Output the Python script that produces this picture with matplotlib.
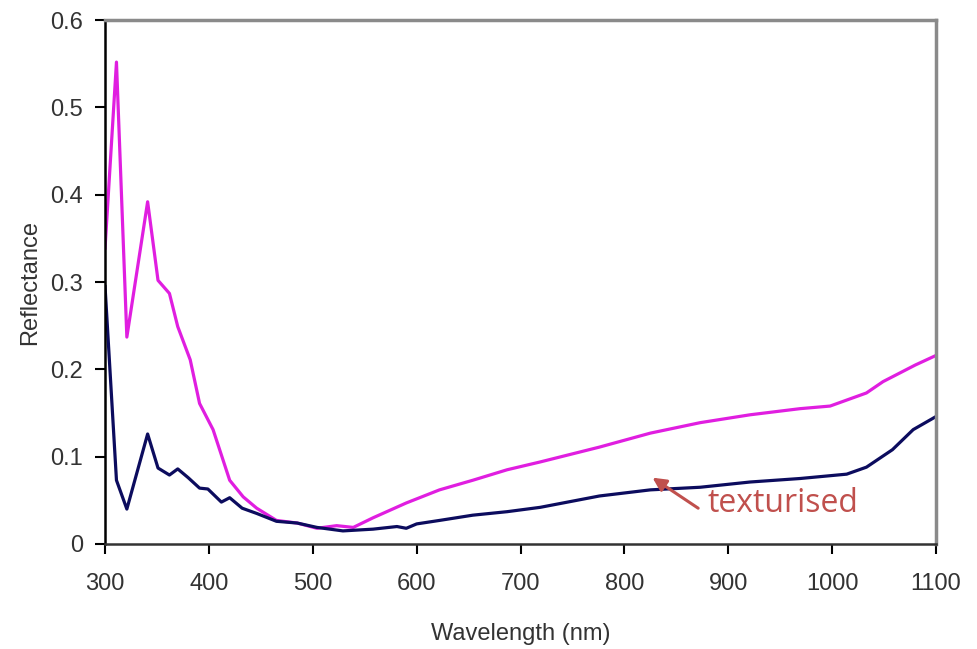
import matplotlib
matplotlib.use("Agg")
import matplotlib.pyplot as plt

# reflectance spectra
wl_plain = [300, 311, 321, 341, 351, 362, 370, 382, 391, 404, 420, 433, 446, 465,
            485, 504, 523, 539, 558, 590, 622, 654, 687, 719, 776, 825, 873, 921,
            969, 998, 1033, 1049, 1080, 1100]
refl_plain = [0.339, 0.552, 0.237, 0.392, 0.302, 0.287, 0.249, 0.211, 0.161, 0.131,
              0.073, 0.054, 0.041, 0.027, 0.024, 0.018, 0.021, 0.019, 0.030, 0.047,
              0.062, 0.073, 0.085, 0.094, 0.111, 0.127, 0.139, 0.148, 0.155, 0.158,
              0.173, 0.186, 0.205, 0.216]

wl_tex = [300, 311, 321, 341, 351, 362, 370, 380, 391, 399, 412, 420, 432, 446,
          465, 485, 504, 529, 558, 581, 590, 600, 622, 654, 687, 719, 776, 825,
          873, 921, 969, 1014, 1033, 1058, 1078, 1100]
refl_tex = [0.295, 0.073, 0.040, 0.126, 0.087, 0.079, 0.086, 0.076, 0.064, 0.063,
            0.048, 0.053, 0.041, 0.035, 0.026, 0.024, 0.019, 0.015, 0.017, 0.020,
            0.018, 0.023, 0.027, 0.033, 0.037, 0.042, 0.055, 0.062, 0.065, 0.071,
            0.075, 0.080, 0.088, 0.108, 0.131, 0.146]

x_ticks = [300, 400, 500, 600, 700, 800, 900, 1000, 1100]
y_ticks = [0, 0.1, 0.2, 0.3, 0.4, 0.5, 0.6]
y_labels = ['0', '0.1', '0.2', '0.3', '0.4', '0.5', '0.6']

plt.rcParams['font.family'] = ['Liberation Sans', 'DejaVu Sans']

fig = plt.figure(figsize=(9.78, 6.49), dpi=100)
ax = fig.add_axes([0.1074, 0.1618, 0.8497, 0.8071])

ax.plot(wl_plain, refl_plain, color='#e01ee0', lw=2.3)
ax.plot(wl_tex, refl_tex, color='#0c0c5e', lw=2.3)

ax.set_xlim(300, 1100)
ax.set_ylim(0, 0.6)
ax.set_xticks(x_ticks)
ax.set_yticks(y_ticks)
ax.set_yticklabels(y_labels)
ax.tick_params(axis='both', direction='out', length=7, width=1.5,
               labelsize=17, labelcolor='#333333')
ax.tick_params(axis='x', pad=14)
ax.tick_params(axis='y', pad=9)

for side in ['top', 'right']:
    ax.spines[side].set_color('#8a8a8a')
    ax.spines[side].set_linewidth(2.5)
ax.spines['left'].set_color('black')
ax.spines['left'].set_linewidth(1.8)
ax.spines['bottom'].set_color('#333333')
ax.spines['bottom'].set_linewidth(1.8)

ax.set_xlabel('Wavelength (nm)', fontsize=17, color='#333333', labelpad=20)
ax.set_ylabel('Reflectance', fontsize=17, color='#333333', labelpad=6)

# annotation: arrow and label drawn separately
ax.annotate('', xy=(827, 0.076), xytext=(871, 0.041),
            arrowprops=dict(arrowstyle='-|>', color='#c0504d', lw=2.2,
                            mutation_scale=20, shrinkA=0, shrinkB=0))
ax.text(880, 0.046, 'texturised', fontsize=23, color='#c0504d',
        va='center', ha='left', family=['Open Sans', 'DejaVu Sans'])

fig.savefig('out.png', dpi=100)
